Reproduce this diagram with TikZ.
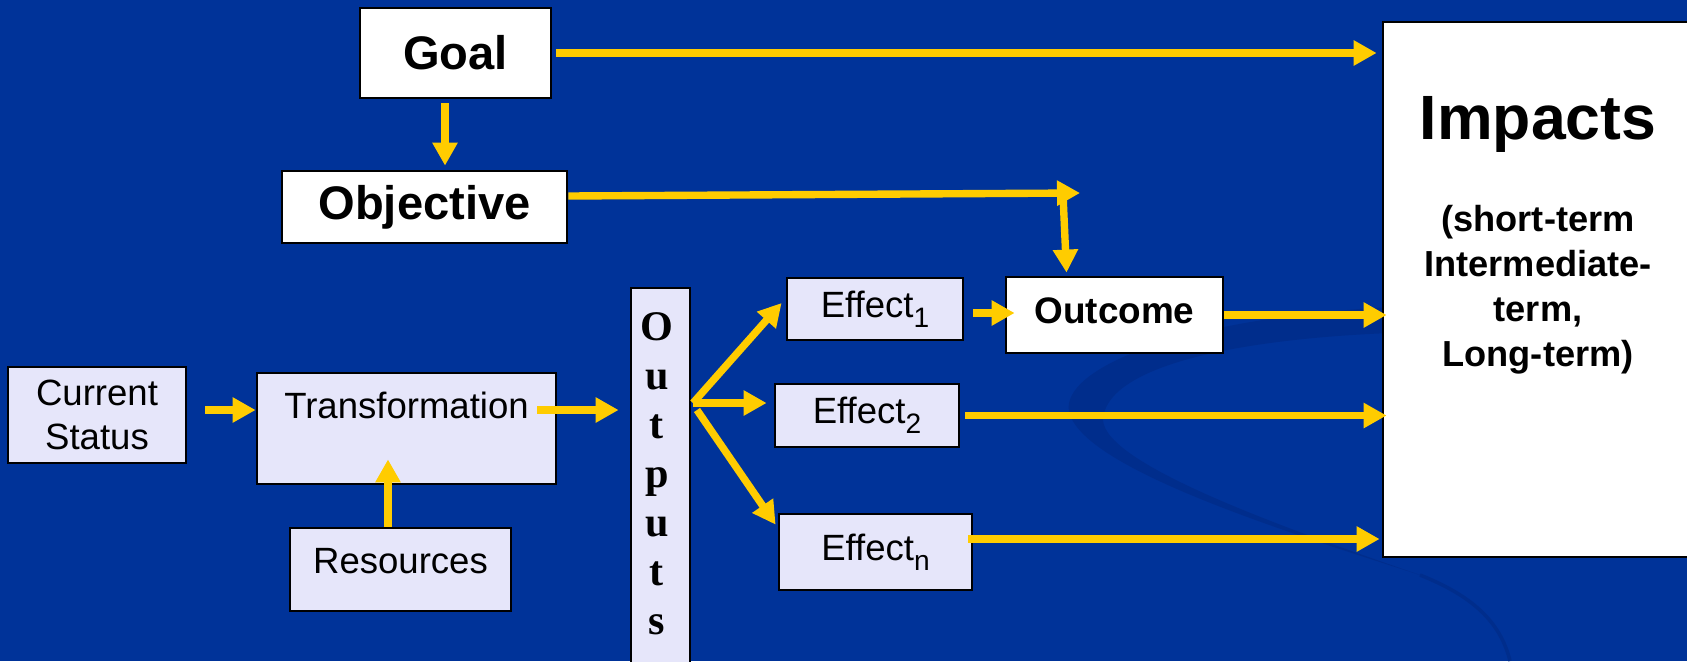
\documentclass[tikz,border=0pt]{standalone}
\usepackage{fontspec}
\setmainfont{Liberation Sans}
\newfontfamily\outputsfont{Liberation Serif}
\usetikzlibrary{arrows.meta}

\definecolor{slideblue}{RGB}{0,51,153}
\definecolor{swooshblue}{RGB}{0,45,140}
\definecolor{arrowgold}{RGB}{255,204,0}
\definecolor{boxlavender}{RGB}{230,230,250}

\newcommand{\effsub}[1]{\raisebox{-2.8pt}{\fontsize{8}{8}\selectfont #1}}

\begin{document}
\begin{tikzpicture}[
  flow/.style={-{Triangle[length=2.3mm,width=2.4mm]}, line width=2.1pt, arrowgold},
  whitebox/.style={draw=black, line width=0.8pt, fill=white, inner sep=0pt},
  lavbox/.style={draw=black, line width=0.8pt, fill=boxlavender, inner sep=0pt},
  bigtext/.style={font=\fontsize{13.4}{16}\selectfont\bfseries},
  smalltext/.style={font=\fontsize{10.4}{12.5}\selectfont},
  outletter/.style={font=\fontsize{12}{14}\selectfont\outputsfont\bfseries, inner sep=0pt}
]
% Slide background
\useasboundingbox (0,0) rectangle (16.87,-6.61);
\fill[slideblue] (0,0) rectangle (16.87,-6.61);
\fill[swooshblue] (13.9,-3.07) .. controls (11.6,-3.2) and (10.55,-3.75) .. (10.7,-4.15)
  .. controls (10.9,-4.7) and (12.8,-5.3) .. (14.2,-5.75)
  .. controls (12.9,-5.3) and (11.05,-4.65) .. (11.03,-4.2)
  .. controls (11.05,-3.7) and (12.2,-3.4) .. (13.9,-3.33) -- cycle;
\draw[swooshblue, line width=1pt] (14.2,-5.75) .. controls (14.7,-5.95) and (15.0,-6.2) .. (15.1,-6.61);

% Goal and objective
\node[whitebox, bigtext, minimum width=1.91cm, minimum height=0.90cm] (goal) at (4.555,-0.53) {Goal};
\node[whitebox, bigtext, minimum width=2.85cm, minimum height=0.72cm] (objective) at (4.245,-2.07) {Objective};

% Impacts
\node[whitebox, minimum width=3.12cm, minimum height=5.35cm] (impacts) at (15.39,-2.895) {};
\node[font=\fontsize{17.8}{20}\selectfont\bfseries, anchor=base] (impactstitle) at (15.38,-1.39) {Impacts};
\node[align=center, font=\fontsize{10.3}{12.8}\selectfont\bfseries] (impactsnote) at (15.38,-2.90) {(short-term\\Intermediate-\\term,\\Long-term)};

% Current status, transformation, resources
\node[lavbox, smalltext, align=center, minimum width=1.78cm, minimum height=0.96cm] (current) at (0.97,-4.15) {Current\\Status};
\node[lavbox, smalltext, minimum width=2.99cm, inner ysep=0.1cm, text height=0.35cm, text depth=0.56cm] (transform) at (4.065,-4.285) {Transformation};
\node[lavbox, smalltext, minimum width=2.21cm, inner ysep=0.1cm, text height=0.35cm, text depth=0.28cm] (resources) at (4.005,-5.695) {Resources};

% Outputs column
\node[lavbox, minimum width=0.59cm, minimum height=3.82cm] (outputs) at (6.605,-4.79) {};
\foreach \ch [count=\i] in {O,u,t,p,u,t,s}
  \node[outletter, anchor=base] (letter\i) at (6.57,{-3.40-0.49*(\i-1)}) {\ch};

% Effects and outcome
\node[lavbox, smalltext, minimum width=1.76cm, minimum height=0.62cm] (effect1) at (8.75,-3.09) {Effect\effsub{1}};
\node[lavbox, smalltext, minimum width=1.84cm, minimum height=0.63cm] (effect2) at (8.67,-4.155) {Effect\effsub{2}};
\node[lavbox, smalltext, minimum width=1.93cm, minimum height=0.76cm] (effectn) at (8.755,-5.52) {Effect\effsub{n}};
\node[whitebox, font=\fontsize{10.5}{12}\selectfont\bfseries, minimum width=2.17cm, inner ysep=0.1cm, text height=0.36cm, text depth=0.20cm] (outcome) at (11.145,-3.15) {Outcome};

\coordinate (objend) at (10.80,-1.93);
\coordinate (fan) at (6.93,-4.03);

% Arrows
\draw[flow] ([xshift=0.04cm]goal.east) -- ([xshift=-0.05cm]goal.east -| impacts.west);
\draw[flow] ([xshift=-0.105cm,yshift=-0.04cm]goal.south) -- ([xshift=-0.105cm,yshift=0.04cm]goal.south |- objective.north);
\draw[flow] ([yshift=0.11cm]objective.east) -- (objend);
\draw[flow] ([xshift=-0.17cm,yshift=-0.02cm]objend) -- ([xshift=-0.48cm,yshift=0.03cm]outcome.north);
\draw[flow] (outcome.east) -- ([xshift=0.05cm]outcome.east -| impacts.west);
\draw[flow] ([xshift=0.09cm,yshift=-0.04cm]effect1.east) -- ([xshift=0.1cm,yshift=-0.04cm]effect1.east -| outcome.west);
\draw[flow] ([xshift=0.05cm]effect2.east) -- ([xshift=0.05cm]effect2.east -| impacts.west);
\draw[flow] ([xshift=-0.05cm,yshift=0.13cm]effectn.east) -- ([xshift=-0.02cm,yshift=0.13cm]effectn.east -| impacts.west);
\draw[flow] ([xshift=0.18cm,yshift=0.05cm]current.east) -- ([yshift=0.05cm]current.east -| transform.west);
\draw[flow] ([xshift=-0.2cm,yshift=0.185cm]transform.east) -- ([xshift=-0.11cm,yshift=0.185cm]transform.east -| outputs.west);
\draw[flow] ([xshift=-0.125cm]resources.north) -- ([xshift=-0.125cm,yshift=0.26cm]resources.north |- transform.south);
\draw[flow] (fan) -- ([xshift=-0.04cm,yshift=0.06cm]effect1.west);
\draw[flow] (fan) -- ([xshift=-0.07cm,yshift=0.125cm]effect2.west);
\draw[flow] ([xshift=0.04cm,yshift=-0.07cm]fan) -- ([xshift=-0.02cm,yshift=-0.12cm]effectn.north west);
\end{tikzpicture}
\end{document}
